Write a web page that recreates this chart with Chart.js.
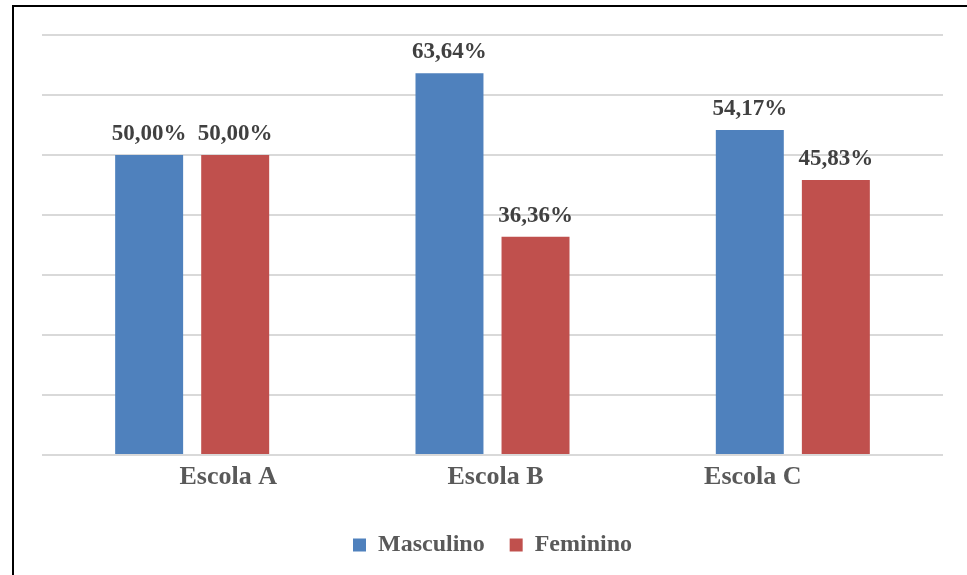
<!DOCTYPE html>
<html>
<head>
<meta charset="utf-8">
<script src="https://cdn.jsdelivr.net/npm/chart.js@4.4.1/dist/chart.umd.min.js"></script>
<style>
  html, body { margin: 0; padding: 0; background: #fff; }
  #wrap { position: relative; width: 967px; height: 575px; overflow: hidden; background: #fff; }
  #frame {
    position: absolute; left: 12px; top: 5px; right: -10px; bottom: -10px;
    border-left: 2px solid #000; border-top: 2px solid #000; pointer-events: none;
  }
</style>
</head>
<body>
<div id="wrap">
  <canvas id="c"></canvas>
  <div id="frame"></div>
</div>
<script>
// Categories and series (percent of students by sex in each school)
const escolas = ['Escola A', 'Escola B', 'Escola C'];
const masculino = [50.00, 63.64, 54.17];
const feminino = [50.00, 36.36, 45.83];
const seriesNames = ['Masculino', 'Feminino'];

// Value axis range
const yMin = 0;
const yMax = 70;
const yStep = 10;

const serif = '"Liberation Serif", "Times New Roman", serif';
const fmtPct = v => v.toFixed(2).replace('.', ',') + '%';

// Horizontal nudge of each category caption
const captionShift = [36, 3, -40];

// Percent labels above every bar
const valueLabels = {
  id: 'valueLabels',
  afterDatasetsDraw(chart) {
    const ctx = chart.ctx;
    ctx.save();
    ctx.font = 'bold 23px ' + serif;
    ctx.fillStyle = '#404040';
    ctx.textAlign = 'center';
    ctx.textBaseline = 'alphabetic';
    chart.data.datasets.forEach((ds, di) => {
      chart.getDatasetMeta(di).data.forEach((bar, i) => {
        ctx.fillText(fmtPct(ds.data[i]), bar.x, bar.y - 15);
      });
    });
    ctx.restore();
  }
};

// Category captions under the groups
const categoryCaptions = {
  id: 'categoryCaptions',
  afterDraw(chart) {
    const x = chart.scales.x;
    const ctx = chart.ctx;
    ctx.save();
    ctx.font = 'bold 26px ' + serif;
    ctx.fillStyle = '#595959';
    ctx.textAlign = 'center';
    ctx.textBaseline = 'middle';
    escolas.forEach((t, i) => {
      ctx.fillText(t, x.getPixelForValue(i) + captionShift[i], x.top + 22);
    });
    ctx.restore();
  }
};

new Chart(document.getElementById('c'), {
  type: 'bar',
  data: {
    labels: escolas,
    datasets: [
      { label: seriesNames[0], data: masculino, backgroundColor: '#4f81bd', borderWidth: 0 },
      { label: seriesNames[1], data: feminino, backgroundColor: '#c0504d', borderWidth: 0 }
    ]
  },
  options: {
    responsive: true,
    maintainAspectRatio: false,
    animation: false,
    layout: { padding: { left: 42, right: 24, top: 35, bottom: 8 } },
    datasets: { bar: { categoryPercentage: 0.573, barPercentage: 0.79 } },
    scales: {
      x: {
        grid: { display: false, drawTicks: false },
        border: { display: false },
        ticks: { display: false },
        afterFit(scale) { scale.height = 53; }
      },
      y: {
        min: yMin,
        max: yMax,
        ticks: { display: false, stepSize: yStep },
        grid: { color: '#d9d9d9', lineWidth: 2, drawTicks: false },
        border: { display: false }
      }
    },
    plugins: {
      legend: {
        position: 'bottom',
        labels: {
          boxWidth: 13,
          boxHeight: 13,
          padding: 25,
          color: '#595959',
          font: { family: serif, size: 24, weight: 'bold' }
        }
      },
      tooltip: { enabled: false }
    }
  },
  plugins: [valueLabels, categoryCaptions]
});
</script>
</body>
</html>
